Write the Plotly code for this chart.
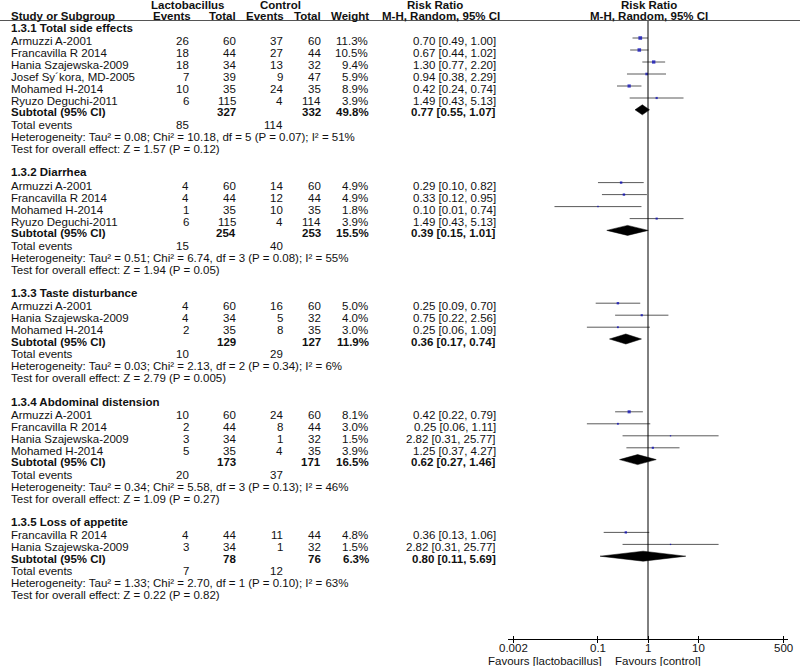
import math
import plotly.graph_objects as go

# ---------------- data ----------------
group_titles = ["1.3.1 Total side effects", "1.3.2 Diarrhea", "1.3.3 Taste disturbance",
                "1.3.4 Abdominal distension", "1.3.5 Loss of appetite"]

study_group = [0, 0, 0, 0, 0, 0, 1, 1, 1, 1, 2, 2, 2, 3, 3, 3, 3, 4, 4]
study_names = ["Armuzzi A-2001", "Francavilla R 2014", "Hania Szajewska-2009", "Josef Sy\u00b4kora, MD-2005",
               "Mohamed H-2014", "Ryuzo Deguchi-2011",
               "Armuzzi A-2001", "Francavilla R 2014", "Mohamed H-2014", "Ryuzo Deguchi-2011",
               "Armuzzi A-2001", "Hania Szajewska-2009", "Mohamed H-2014",
               "Armuzzi A-2001", "Francavilla R 2014", "Hania Szajewska-2009", "Mohamed H-2014",
               "Francavilla R 2014", "Hania Szajewska-2009"]
lacto_events = [26, 18, 18, 7, 10, 6, 4, 4, 1, 6, 4, 4, 2, 10, 2, 3, 5, 4, 3]
lacto_total = [60, 44, 34, 39, 35, 115, 60, 44, 35, 115, 60, 34, 35, 60, 44, 34, 35, 44, 34]
ctrl_events = [37, 27, 13, 9, 24, 4, 14, 12, 10, 4, 16, 5, 8, 24, 8, 1, 4, 11, 1]
ctrl_total = [60, 44, 32, 47, 35, 114, 60, 44, 35, 114, 60, 32, 35, 60, 44, 32, 35, 44, 32]
weights = [11.3, 10.5, 9.4, 5.9, 8.9, 3.9, 4.9, 4.9, 1.8, 3.9, 5.0, 4.0, 3.0, 8.1, 3.0, 1.5, 3.9, 4.8, 1.5]
rr = [0.70, 0.67, 1.30, 0.94, 0.42, 1.49, 0.29, 0.33, 0.10, 1.49, 0.25, 0.75, 0.25, 0.42, 0.25, 2.82, 1.25, 0.36, 2.82]
ci_low = [0.49, 0.44, 0.77, 0.38, 0.24, 0.43, 0.10, 0.12, 0.0135, 0.43, 0.09, 0.22, 0.06, 0.22, 0.06, 0.31, 0.37, 0.13, 0.31]
ci_high = [1.00, 1.02, 2.20, 2.29, 0.74, 5.13, 0.82, 0.95, 0.74, 5.13, 0.70, 2.56, 1.09, 0.79, 1.11, 25.77, 4.27, 1.06, 25.77]

sub_lacto_total = [327, 254, 129, 173, 78]
sub_ctrl_total = [332, 253, 127, 171, 76]
sub_weight = [49.8, 15.5, 11.9, 16.5, 6.3]
sub_rr = [0.77, 0.39, 0.36, 0.62, 0.80]
sub_low = [0.55, 0.15, 0.17, 0.27, 0.11]
sub_high = [1.07, 1.01, 0.74, 1.46, 5.69]
sub_lacto_events = [85, 15, 10, 20, 7]
sub_ctrl_events = [114, 40, 29, 37, 12]
het_tau2 = ["0.08", "0.51", "0.03", "0.34", "1.33"]
het_chi2 = ["10.18", "6.74", "2.13", "5.58", "2.70"]
het_df = [5, 3, 2, 3, 1]
het_p = ["0.07", "0.08", "0.34", "0.13", "0.10"]
het_i2 = [51, 55, 6, 46, 63]
effect_z = ["1.57", "1.94", "2.79", "1.09", "0.22"]
effect_p = ["0.12", "0.05", "0.005", "0.27", "0.82"]

axis_ticks = [0.002, 0.1, 1, 10, 500]
axis_ticktext = ["0.002", "0.1", "1", "10", "500"]

# ---------------- layout helpers ----------------
W, H = 800, 666
FONT = "Liberation Sans, Arial, Helvetica, sans-serif"
FS = 11.5
TXT = "#111111"

annotations = []


def txt(x, y, s, anchor="left", bold=False, xref="paper"):
    annotations.append(dict(
        x=(x / W if xref == "paper" else x), y=y, xref=xref, yref="y",
        text=(f"<b>{s}</b>" if bold else s),
        showarrow=False, xanchor=anchor, yanchor="middle",
        font=dict(family=FONT, size=FS, color=TXT), borderpad=0))


X_NAME = 10
X_LE = 190
X_LT = 237
X_CE = 284
X_CT = 322
X_W = 369
X_RR = 497

# headers
txt(188, 4.5, "Lactobacillus", "center", True)
txt(280, 4.5, "Control", "center", True)
txt(435, 4.5, "Risk Ratio", "center", True)
txt(649, 4.5, "Risk Ratio", "center", True)
txt(X_NAME, 16, "Study or Subgroup", "left", True)
txt(X_LE + 2, 16, "Events", "right", True)
txt(X_LT, 16, "Total", "right", True)
txt(X_CE + 1, 16, "Events", "right", True)
txt(X_CT, 16, "Total", "right", True)
txt(X_W + 1, 16, "Weight", "right", True)
txt(441, 16, "M-H, Random, 95% CI", "center", True)
txt(649, 16, "M-H, Random, 95% CI", "center", True)

fig = go.Figure()

y = 27.7
study_y = []
sub_y = []
for g, title in enumerate(group_titles):
    txt(X_NAME, y, title, "left", True)
    idx = [i for i, s in enumerate(study_group) if s == g]
    y += 13.3
    for k, i in enumerate(idx):
        if k > 0:
            y += 12
        txt(X_NAME, y, study_names[i])
        txt(X_LE, y, str(lacto_events[i]), "right")
        txt(X_LT, y, str(lacto_total[i]), "right")
        txt(X_CE, y, str(ctrl_events[i]), "right")
        txt(X_CT, y, str(ctrl_total[i]), "right")
        txt(X_W, y, f"{weights[i]:.1f}%", "right")
        txt(X_RR, y, f"{rr[i]:.2f} [{ci_low[i]:.2f}, {ci_high[i]:.2f}]", "right")
        study_y.append(y)
    y += 11.3
    txt(X_NAME, y, "Subtotal (95% CI)", "left", True)
    txt(X_LT, y, str(sub_lacto_total[g]), "right", True)
    txt(X_CT, y, str(sub_ctrl_total[g]), "right", True)
    txt(X_W + 1, y, f"{sub_weight[g]:.1f}%", "right", True)
    txt(X_RR, y, f"{sub_rr[g]:.2f} [{sub_low[g]:.2f}, {sub_high[g]:.2f}]", "right", True)
    sub_y.append(y)
    y += 12.7
    txt(X_NAME, y, "Total events")
    txt(X_LE, y, str(sub_lacto_events[g]), "right")
    txt(X_CE, y, str(sub_ctrl_events[g]), "right")
    y += 12
    txt(X_NAME, y, f"Heterogeneity: Tau\u00b2 = {het_tau2[g]}; Chi\u00b2 = {het_chi2[g]}, df = {het_df[g]} "
                   f"(P = {het_p[g]}); I\u00b2 = {het_i2[g]}%")
    y += 12
    txt(X_NAME, y, f"Test for overall effect: Z = {effect_z[g]} (P = {effect_p[g]})")
    y += 23.3

OFF = -3  # graphics sit slightly above the text centre

# CI lines
for i in range(len(rr)):
    yy = study_y[i] + OFF
    fig.add_trace(go.Scatter(x=[ci_low[i], ci_high[i]], y=[yy, yy], mode="lines",
                             line=dict(color="#5a5a5a", width=1), hoverinfo="skip", showlegend=False))
# squares
fig.add_trace(go.Scatter(x=rr, y=[v + OFF for v in study_y], mode="markers",
                         marker=dict(symbol="square", color="#0000b8",
                                     size=[1.1 * math.sqrt(w) for w in weights], line=dict(width=0)),
                         hoverinfo="skip", showlegend=False))
# diamonds
for g in range(len(sub_rr)):
    yy = sub_y[g] + OFF + 0.5
    fig.add_trace(go.Scatter(x=[sub_low[g], sub_rr[g], sub_high[g], sub_rr[g], sub_low[g]],
                             y=[yy, yy - 5, yy, yy + 5, yy], mode="lines", fill="toself",
                             fillcolor="black", line=dict(color="black", width=0.5),
                             hoverinfo="skip", showlegend=False))
# vertical line of no effect
fig.add_trace(go.Scatter(x=[1, 1], y=[20, 639], mode="lines", line=dict(color="black", width=1),
                         hoverinfo="skip", showlegend=False))
# dummy trace for the overlay axis (upward tick marks)
fig.add_trace(go.Scatter(x=[1], y=[639], xaxis="x2", mode="markers", marker=dict(opacity=0),
                         hoverinfo="skip", showlegend=False))

# header rule
shapes = [dict(type="line", xref="paper", yref="y", x0=0, x1=1, y0=20.5, y1=20.5,
               line=dict(color="#555555", width=1))]

# tick labels placed through the log axis (annotation x is log10 on log axes)
for v, t in zip(axis_ticks, axis_ticktext):
    txt(math.log10(v), 647.5, t, "center", xref="x")

# favours labels
txt(603, 661, "Favours [lactobacillus]", "right")
txt(614, 661, "Favours [control]", "left")

xr = [math.log10(0.002) - 0.1, math.log10(500) + 0.1]
pos = 1 - 639 / H
common_x = dict(type="log", range=xr, domain=[508 / W, 788 / W], anchor="free", position=pos,
                showgrid=False, zeroline=False, tickvals=axis_ticks, fixedrange=True,
                showticklabels=False)

fig.update_layout(
    width=W, height=H, margin=dict(l=0, r=0, t=0, b=0),
    paper_bgcolor="white", plot_bgcolor="white",
    xaxis=dict(**common_x, showline=True, linecolor="black", linewidth=1, ticks="outside",
               ticklen=3, tickcolor="black"),
    xaxis2=dict(**common_x, overlaying="x", showline=False, ticks="inside", ticklen=3,
                tickcolor="black"),
    yaxis=dict(range=[H, 0], domain=[0, 1], visible=False, fixedrange=True),
    annotations=annotations, shapes=shapes, showlegend=False,
)

fig.write_html("out.html", config={"displayModeBar": False},
               post_script="document.body.style.margin='0';")
